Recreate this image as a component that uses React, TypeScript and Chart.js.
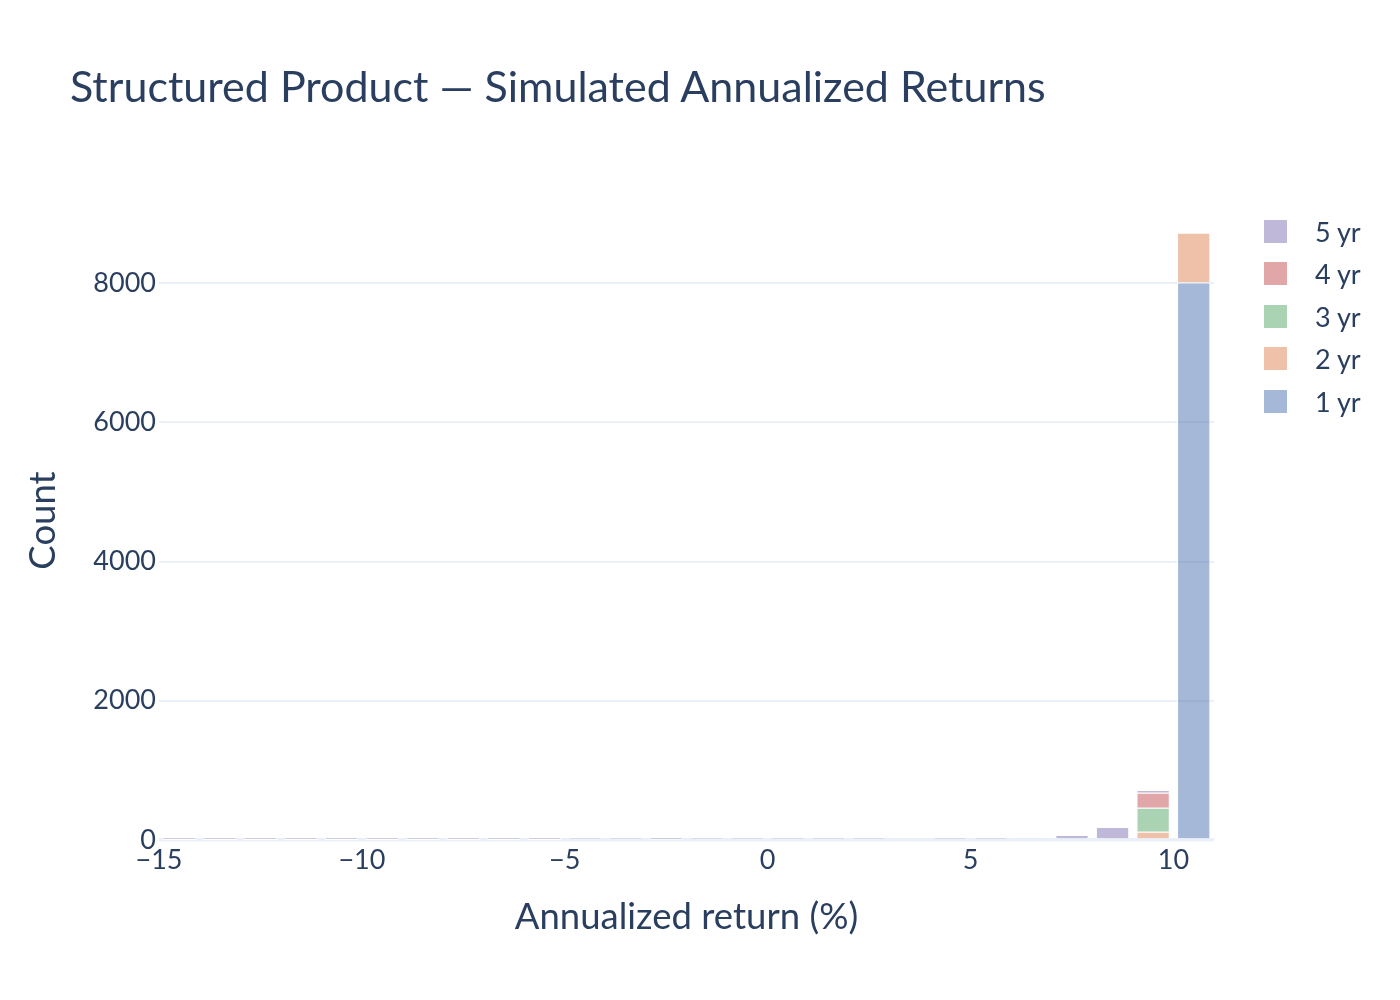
import React, { useEffect, useRef } from "react";
import { Chart, registerables } from "chart.js";

Chart.register(...registerables);

// histogram bins: left edges, 1% wide
const binStarts = [
  -15, -14, -13, -12, -11, -10, -9, -8, -7, -6, -5, -4, -3, -2, -1, 0, 1, 2, 3, 4, 5, 6, 7, 8, 9, 10,
];
const seriesNames = ["1 yr", "2 yr", "3 yr", "4 yr", "5 yr"];
const oneYear = [0, 0, 0, 0, 0, 0, 0, 0, 0, 0, 0, 0, 0, 0, 0, 0, 0, 0, 0, 0, 0, 0, 0, 0, 0, 8010];
const twoYear = [0, 0, 0, 0, 0, 0, 0, 0, 0, 0, 0, 0, 0, 0, 0, 0, 0, 0, 0, 0, 0, 0, 0, 0, 120, 715];
const threeYear = [0, 0, 0, 0, 0, 0, 0, 0, 0, 0, 0, 0, 0, 0, 0, 0, 0, 0, 0, 0, 0, 0, 0, 0, 345, 0];
const fourYear = [0, 0, 0, 0, 0, 0, 0, 0, 0, 0, 0, 0, 0, 0, 0, 0, 0, 0, 0, 0, 0, 0, 0, 0, 215, 0];
const fiveYear = [1, 1, 1, 1, 1, 1, 1, 1, 1, 1, 12, 12, 2, 12, 12, 12, 12, 12, 28, 14, 14, 29, 72, 187, 40, 0];
const xTicks = [-15, -10, -5, 0, 5, 10];
const yTicks = [0, 2000, 4000, 6000, 8000];

const colors = [
  "rgba(76, 114, 176, 0.5)",
  "rgba(221, 132, 82, 0.5)",
  "rgba(85, 168, 104, 0.5)",
  "rgba(196, 78, 82, 0.5)",
  "rgba(129, 114, 179, 0.5)",
];

const FONT = "'Source Sans Pro', Lato, 'Open Sans', sans-serif";
const INK = "#2a3f5f";
const GRID = "#ebf0f8";

const fmt = (v: number) => (v < 0 ? "\u2212" + Math.abs(v) : String(v));

const App = () => {
  const canvasRef = useRef<HTMLCanvasElement>(null);

  useEffect(() => {
    if (!canvasRef.current) return;
    const ctx = canvasRef.current.getContext("2d") as CanvasRenderingContext2D;
    const allSeries = [oneYear, twoYear, threeYear, fourYear, fiveYear];

    const chart = new Chart(ctx, {
      type: "bar",
      data: {
        datasets: allSeries.map((vals, i) => ({
          label: seriesNames[i],
          data: vals.map((v, j) => ({ x: binStarts[j] + 0.5, y: v })),
          backgroundColor: colors[i],
          borderColor: "#ffffff",
          borderWidth: 1,
          barPercentage: 0.82,
          categoryPercentage: 1,
        })),
      },
      options: {
        responsive: false,
        animation: false,
        layout: { padding: { top: 201, right: 186, bottom: 0, left: 0 } },
        plugins: {
          legend: { display: false },
          tooltip: { enabled: false },
        },
        scales: {
          x: {
            type: "linear",
            stacked: true,
            offset: false,
            min: -15,
            max: 11,
            afterFit: (scale: any) => {
              scale.height = 160;
            },
            afterBuildTicks: (scale: any) => {
              scale.ticks = xTicks.map((v) => ({ value: v }));
            },
            grid: { display: false, drawTicks: false },
            border: { display: false },
            ticks: {
              color: INK,
              font: { family: FONT, size: 27 },
              padding: 4,
              callback: (v: any) => fmt(Number(v)),
            },
            title: {
              display: true,
              text: "Annualized return (%)",
              color: INK,
              font: { family: FONT, size: 36.5 },
              padding: { top: 0, bottom: 61 },
            },
          },
          y: {
            stacked: true,
            min: 0,
            max: 9180,
            afterFit: (scale: any) => {
              scale.width = 159;
            },
            afterBuildTicks: (scale: any) => {
              scale.ticks = yTicks.map((v) => ({ value: v }));
            },
            grid: {
              color: GRID,
              lineWidth: (c: any) => (c.tick && c.tick.value === 0 ? 3.5 : 2),
              drawTicks: false,
            },
            border: { display: false },
            ticks: {
              color: INK,
              font: { family: FONT, size: 27 },
              padding: 3,
              callback: (v: any) => fmt(Number(v)),
            },
            title: {
              display: true,
              text: "Count",
              color: INK,
              font: { family: FONT, size: 36.5 },
              padding: { top: 21, bottom: 0 },
            },
          },
        },
      },
    });

    return () => {
      chart.destroy();
    };
  }, []);

  const legendOrder = [4, 3, 2, 1, 0];

  return (
    <div style={{ position: "absolute", left: 0, top: 0, width: 1400, height: 1000, background: "#fff" }}>
      <canvas ref={canvasRef} width={1400} height={1000} style={{ position: "absolute", left: 0, top: 0 }} />
      <div
        style={{
          position: "absolute",
          left: 70,
          top: 64,
          fontFamily: FONT,
          fontSize: 43,
          lineHeight: "43px",
          color: INK,
          whiteSpace: "nowrap",
        }}
      >
        Structured Product — Simulated Annualized Returns
      </div>
      {legendOrder.map((i, k) => (
        <div
          key={seriesNames[i]}
          style={{
            position: "absolute",
            left: 1264,
            top: 231 + k * 42.5 - 14,
            height: 28,
            display: "flex",
            alignItems: "center",
            fontFamily: FONT,
            fontSize: 27,
            color: INK,
            whiteSpace: "nowrap",
          }}
        >
          <span style={{ display: "inline-block", width: 23, height: 23, background: colors[i], marginRight: 28 }} />
          <span>{seriesNames[i]}</span>
        </div>
      ))}
    </div>
  );
};

export default App;
